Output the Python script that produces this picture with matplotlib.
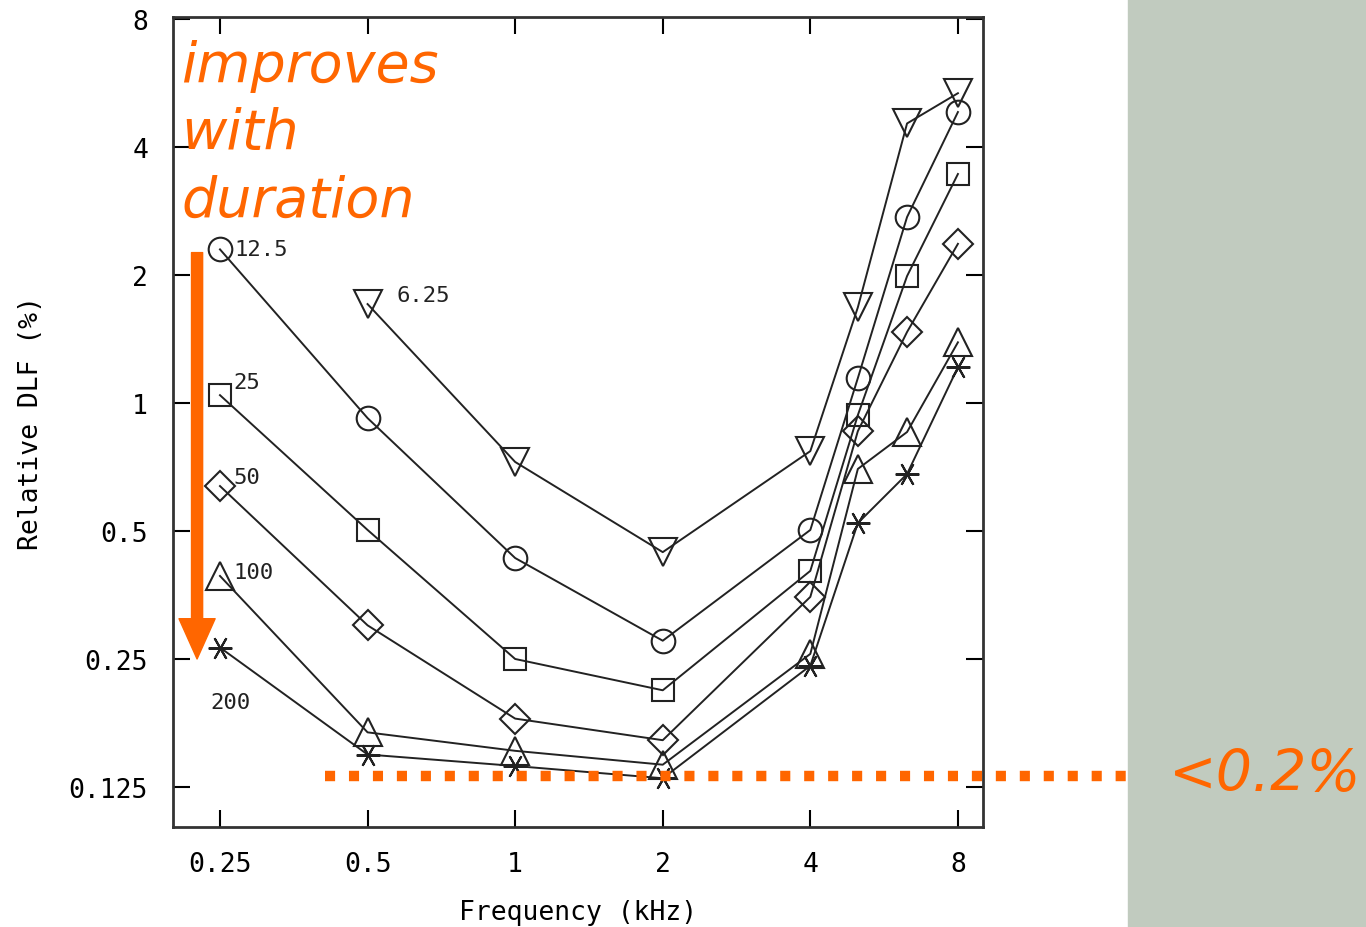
import numpy as np
import matplotlib.pyplot as plt
from matplotlib.patches import Rectangle
from matplotlib.lines import Line2D

# frequencies (kHz) and relative DLF (%) per tone duration (ms)
freqs = [0.25, 0.5, 1, 2, 4, 5, 6.3, 8]
dlf_6_25 = [None, 1.71, 0.727, 0.446, 0.771, 1.68, 4.55, 5.36]
dlf_12_5 = [2.30, 0.922, 0.432, 0.276, 0.503, 1.145, 2.74, 4.84]
dlf_25 = [1.044, 0.503, 0.25, 0.211, 0.403, 0.937, 1.99, 3.46]
dlf_50 = [0.638, 0.30, 0.181, 0.161, 0.35, 0.859, 1.47, 2.37]
dlf_100 = [0.392, 0.168, 0.152, 0.141, 0.257, 0.70, 0.855, 1.39]
dlf_200 = [0.266, 0.149, 0.140, 0.131, 0.241, 0.522, 0.681, 1.215]

series = [
    ("6.25", dlf_6_25, "v"),
    ("12.5", dlf_12_5, "o"),
    ("25", dlf_25, "s"),
    ("50", dlf_50, "D"),
    ("100", dlf_100, "^"),
    ("200", dlf_200, (6, 2, 90)),
]
msizes = {"v": 20, "o": 17, "s": 16, "D": 15, "^": 20}

xticks = [0.25, 0.5, 1, 2, 4, 8]
xticklabels = ["0.25", "0.5", "1", "2", "4", "8"]
yticks = [0.125, 0.25, 0.5, 1, 2, 4, 8]
yticklabels = ["0.125", "0.25", "0.5", "1", "2", "4", "8"]

orange = "#FF6600"
mono = "DejaVu Sans Mono"

fig = plt.figure(figsize=(13.66, 9.28), dpi=100)
fig.patches.append(Rectangle((1128 / 1366, 0), 1 - 1128 / 1366, 1,
                             transform=fig.transFigure, color="#C1CBBF", zorder=0))

ax = fig.add_axes([173 / 1366, 1 - 828 / 928, 810 / 1366, 810 / 928])
ax.set_xscale("log", base=2)
ax.set_yscale("log", base=2)
ax.set_xlim(0.2005, 9.0)
ax.set_ylim(0.1006, 8.1)

for name, vals, m in series:
    xs = [f for f, v in zip(freqs, vals) if v is not None]
    ys = [v for v in vals if v is not None]
    ms = msizes.get(m, 16) if isinstance(m, str) else 17
    ax.plot(xs, ys, color="#222222", lw=1.4, marker=m, ms=ms,
            mfc="none", mec="#222222", mew=1.5)

# series labels
lab_kw = dict(family=mono, fontsize=16, color="#222222", va="center")
ax.text(0.268, 2.30, "12.5", **lab_kw)
ax.text(0.573, 1.80, "6.25", **lab_kw)
ax.text(0.266, 1.12, "25", **lab_kw)
ax.text(0.266, 0.67, "50", **lab_kw)
ax.text(0.266, 0.40, "100", **lab_kw)
ax.text(0.263, 0.198, "200", ha="center", **lab_kw)

ax.set_xticks(xticks)
ax.set_xticklabels(xticklabels, family=mono, fontsize=19)
ax.set_yticks(yticks)
ax.set_yticklabels(yticklabels, family=mono, fontsize=19)
ax.minorticks_off()
ax.tick_params(direction="in", length=12, width=1.5, top=True, right=True)
ax.tick_params(axis="y", pad=18)
ax.tick_params(axis="x", pad=17)
for s in ax.spines.values():
    s.set_linewidth(2)
    s.set_color("#333333")

ax.set_xlabel("Frequency (kHz)", family=mono, fontsize=19, labelpad=16)
ax.set_ylabel("Relative DLF (%)", family=mono, fontsize=19, labelpad=18)

# orange annotations
ax.text(0.2085, 7.2, "improves\nwith\nduration", color=orange, fontsize=40,
        style="italic", va="top", ha="left", linespacing=1.34)
ax.annotate("", xy=(0.2245, 0.25), xytext=(0.2245, 2.26),
            arrowprops=dict(width=8, headwidth=26, headlength=29,
                            color=orange, shrink=0))

y_dot = 1 - 777 / 928
fig.add_artist(Line2D([325 / 1366, 1128 / 1366], [y_dot, y_dot],
                      transform=fig.transFigure, color=orange, lw=7.5,
                      linestyle=(0, (0.97, 1.33)), solid_capstyle="butt",
                      dash_capstyle="butt"))
fig.text(1265 / 1366, 1 - 775 / 928, "<0.2%", color=orange, fontsize=41,
         style="italic", ha="center", va="center")

fig.savefig("out.png", dpi=100)
